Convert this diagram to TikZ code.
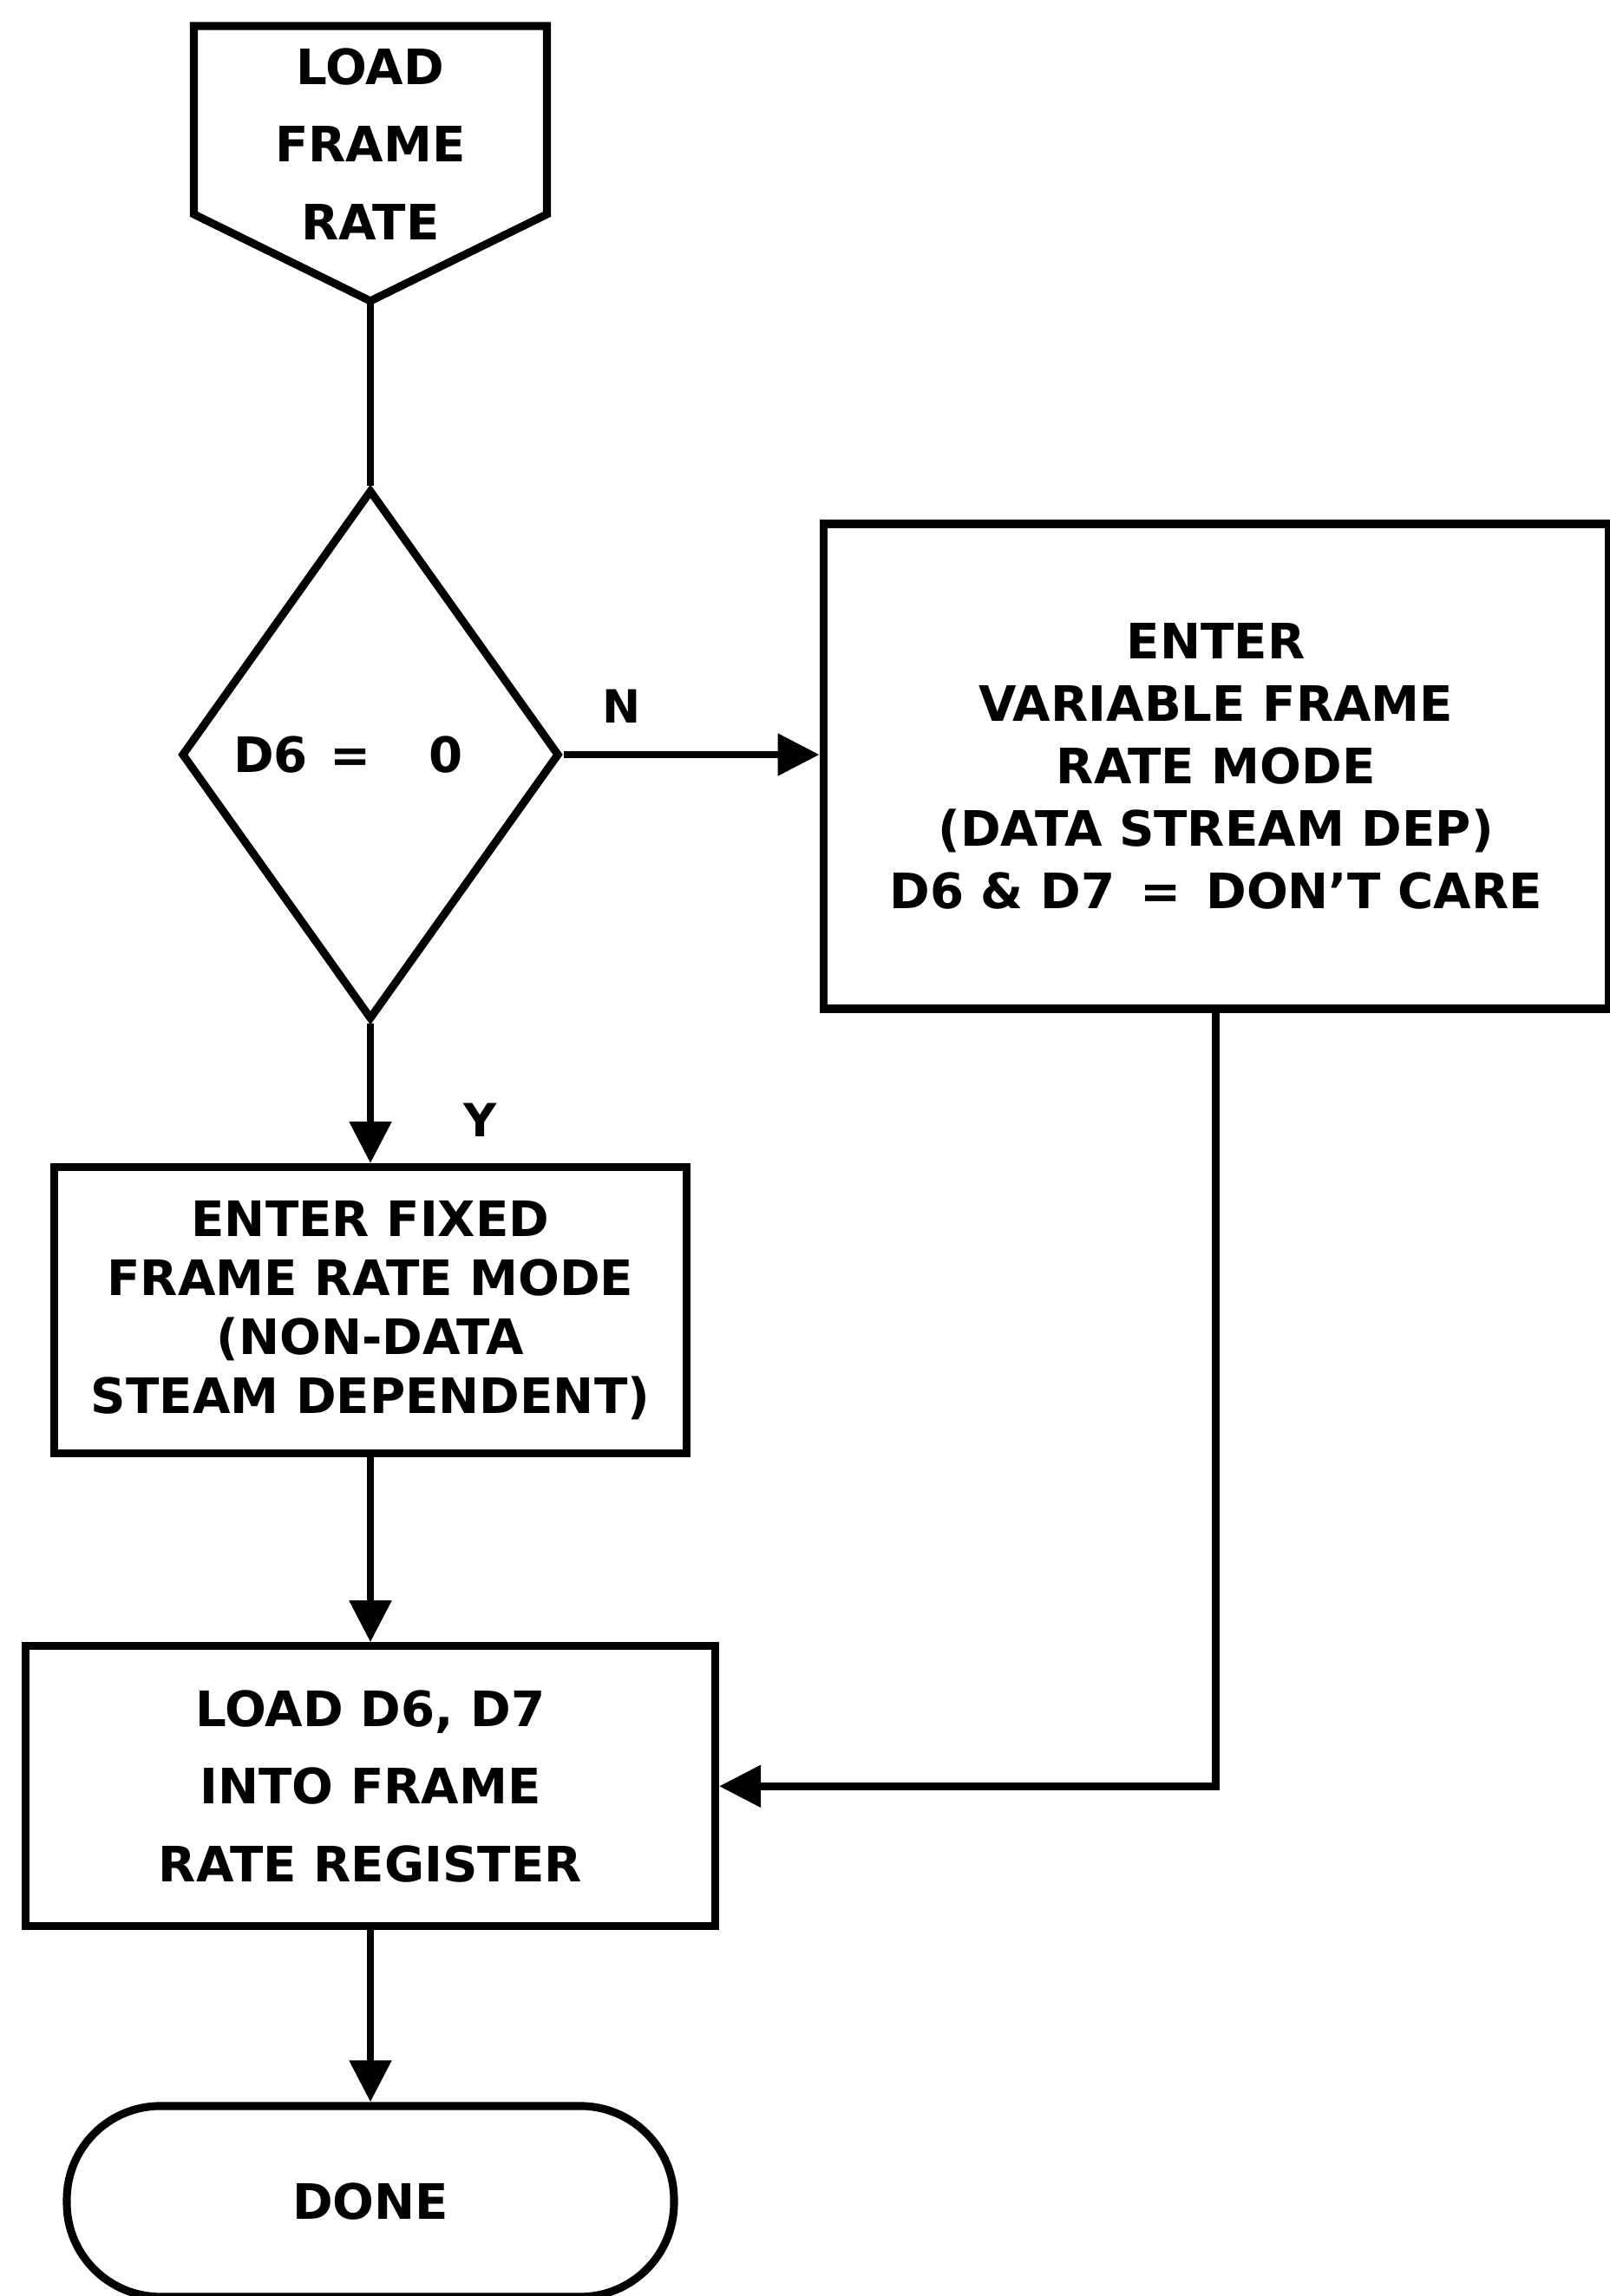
\documentclass[tikz,border=0pt]{standalone}
\usepackage{fontspec}
\setmainfont{DejaVu Sans}
\usetikzlibrary{positioning}
\usetikzlibrary{shapes.geometric}
\usetikzlibrary{arrows.meta}
\tikzset{
  % A process box: width and height are given
  proc/.style 2 args={
    draw=black, line width=2.6pt, rectangle, align=center,
    font=\bfseries\fontsize{16}{20.5}\selectfont, inner sep=0pt,
    minimum width=#1, minimum height=#2},
  % The yes/no test
  decide/.style={
    draw=black, line width=2.6pt, diamond, aspect=0.7, align=center,
    font=\bfseries\fontsize{16}{20.5}\selectfont, inner sep=0pt,
    minimum width=4.36cm, minimum height=6.11cm},
  % The end of the routine
  term/.style={
    draw=black, line width=2.6pt, rectangle, rounded corners=1.08cm,
    font=\bfseries\fontsize{16}{20.5}\selectfont, inner sep=0pt,
    minimum width=7.0cm, minimum height=2.2cm},
  % Entry text and its outline
  entry/.style={align=center, font=\bfseries\fontsize{16}{25.5}\selectfont, inner sep=0pt},
  outline/.style={draw=black, line width=2.6pt, line join=miter},
  % Relationships
  flow/.style={-{Triangle[length=4.8mm, width=4.7mm]}, draw=black, line width=2.4pt},
  link/.style={draw=black, line width=2.4pt},
  lbl/.style={font=\bfseries\fontsize{15}{18}\selectfont, inner sep=0pt},
}
\begin{document}
\begin{tikzpicture}
  \useasboundingbox (0,0) rectangle (18.55,-26.47);

  \node[entry] (start) at (4.27,-1.66) {LOAD\\FRAME\\RATE};
  \draw[outline] (2.235,-2.47) -- (2.235,-0.30) -- (6.305,-0.30) -- (6.305,-2.47) -- (4.27,-3.47) -- cycle;
  \coordinate (starttip) at (4.27,-3.47);

  \node[decide] (dec) at (4.27,-8.70) {D6\hspace{0.45em}=\hspace{1.2em}0\hspace*{0.9em}};
  \node[proc={9.05cm}{5.59cm}, right=2.95cm of dec, yshift=-0.135cm, font=\bfseries\fontsize{16}{20.5}\selectfont] (var)
       {ENTER\\VARIABLE FRAME\\RATE MODE\\(DATA STREAM DEP)\\D6 \& D7 \,=\, DON'T CARE};
  \node[proc={7.29cm}{3.30cm}, below=1.61cm of dec, font=\bfseries\fontsize{16}{19.4}\selectfont] (fixed)
       {ENTER FIXED\\FRAME RATE MODE\\(NON-DATA\\STEAM DEPENDENT)};
  \node[proc={7.95cm}{3.23cm}, below=2.13cm of fixed, font=\bfseries\fontsize{16}{25.5}\selectfont] (load)
       {LOAD D6, D7\\INTO FRAME\\RATE REGISTER};
  \node[term, below=1.98cm of load] (done) {DONE};

  \node[lbl] (nlab) at (7.17,-8.14) {N};
  \node[lbl] (ylab) at (5.54,-12.91) {Y};

  \draw[link] (starttip) -- (dec);
  \draw[flow] (dec.east) -- (dec.east -| var.west);
  \draw[flow] (dec) -- (fixed);
  \draw[flow] (fixed) -- (load);
  \draw[flow] (var.south) |- (load.east);
  \draw[flow] (load) -- (done);

\end{tikzpicture}
\end{document}
